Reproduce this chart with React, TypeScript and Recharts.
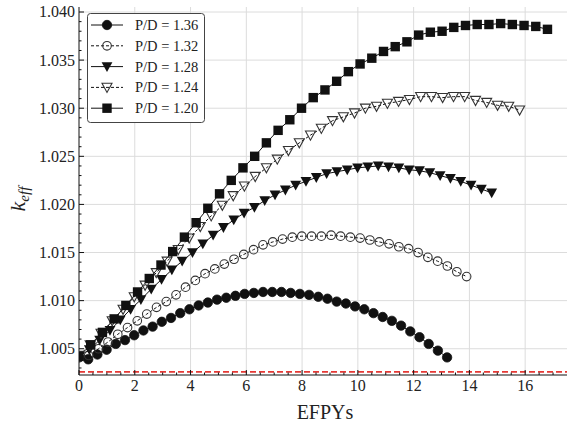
import { LineChart, Line, XAxis, YAxis, ReferenceLine, Legend } from 'recharts'

const SERIF = 'Liberation Serif, DejaVu Serif, serif'
const INK = '#111'
const txt = { fontFamily: SERIF }

// EFPY / k_eff pairs, one pair per P/D ratio
const efpy136 = [0, 0.33, 0.66, 0.99, 1.32, 1.65, 1.98, 2.31, 2.64, 2.97, 3.3, 3.63, 3.96, 4.29, 4.62, 4.95, 5.28, 5.61, 5.94, 6.27, 6.6, 6.93, 7.26, 7.59, 7.92, 8.25, 8.58, 8.91, 9.24, 9.57, 9.9, 10.23, 10.56, 10.89, 11.22, 11.55, 11.88, 12.21, 12.54, 12.87, 13.2]
const keff136 = [1.0041, 1.0039, 1.0044, 1.0049, 1.0055, 1.0059, 1.0064, 1.0069, 1.0073, 1.0078, 1.0082, 1.0087, 1.0091, 1.0095, 1.0098, 1.0101, 1.0103, 1.0105, 1.0107, 1.0108, 1.0109, 1.0109, 1.0109, 1.0108, 1.0107, 1.0106, 1.0104, 1.0102, 1.0099, 1.0097, 1.0094, 1.0091, 1.0087, 1.0083, 1.0079, 1.0074, 1.0068, 1.0062, 1.0055, 1.0048, 1.0041]

const efpy132 = [0, 0.35, 0.7, 1.04, 1.39, 1.74, 2.09, 2.43, 2.78, 3.13, 3.48, 3.82, 4.17, 4.52, 4.87, 5.21, 5.56, 5.91, 6.26, 6.6, 6.95, 7.3, 7.65, 7.99, 8.34, 8.69, 9.04, 9.38, 9.73, 10.08, 10.43, 10.77, 11.12, 11.47, 11.82, 12.16, 12.51, 12.86, 13.21, 13.55, 13.9]
const keff132 = [1.0041, 1.0043, 1.005, 1.0057, 1.0065, 1.0072, 1.0079, 1.0086, 1.0093, 1.0099, 1.0106, 1.0114, 1.0121, 1.0128, 1.0133, 1.0138, 1.0143, 1.0148, 1.0153, 1.0158, 1.0161, 1.0164, 1.0166, 1.0167, 1.0167, 1.0167, 1.0168, 1.0167, 1.0166, 1.0165, 1.0163, 1.0161, 1.0159, 1.0156, 1.0154, 1.015, 1.0145, 1.0141, 1.0136, 1.013, 1.0125]

const efpy128 = [0, 0.37, 0.74, 1.11, 1.48, 1.85, 2.22, 2.59, 2.96, 3.33, 3.7, 4.07, 4.44, 4.81, 5.18, 5.55, 5.92, 6.29, 6.66, 7.03, 7.4, 7.77, 8.14, 8.51, 8.88, 9.25, 9.62, 9.99, 10.36, 10.73, 11.1, 11.47, 11.84, 12.21, 12.58, 12.95, 13.32, 13.69, 14.06, 14.43, 14.8]
const keff128 = [1.0042, 1.0049, 1.0059, 1.0069, 1.008, 1.0091, 1.0101, 1.0112, 1.0122, 1.0132, 1.0141, 1.015, 1.0159, 1.0168, 1.0176, 1.0184, 1.0191, 1.0197, 1.0204, 1.021, 1.0215, 1.022, 1.0224, 1.0228, 1.0232, 1.0234, 1.0236, 1.0238, 1.0239, 1.024, 1.0239, 1.0238, 1.0236, 1.0235, 1.0233, 1.023, 1.0227, 1.0224, 1.022, 1.0216, 1.0212]

const efpy124 = [0, 0.4, 0.79, 1.19, 1.58, 1.98, 2.37, 2.77, 3.16, 3.56, 3.95, 4.35, 4.74, 5.14, 5.53, 5.93, 6.32, 6.72, 7.11, 7.51, 7.9, 8.3, 8.69, 9.09, 9.48, 9.88, 10.27, 10.67, 11.06, 11.46, 11.85, 12.25, 12.64, 13.04, 13.43, 13.83, 14.22, 14.62, 15.01, 15.41, 15.8]
const keff124 = [1.0043, 1.0054, 1.0066, 1.0079, 1.0091, 1.0104, 1.0116, 1.0129, 1.0141, 1.0153, 1.0165, 1.0177, 1.0188, 1.0199, 1.0209, 1.0219, 1.0229, 1.0238, 1.0247, 1.0256, 1.0264, 1.0272, 1.0279, 1.0287, 1.0291, 1.0295, 1.03, 1.0302, 1.0305, 1.0307, 1.0309, 1.0312, 1.0312, 1.0311, 1.0312, 1.0312, 1.0308, 1.0306, 1.0303, 1.0302, 1.0298]

const efpy120 = [0, 0.42, 0.84, 1.26, 1.68, 2.1, 2.52, 2.94, 3.36, 3.78, 4.2, 4.62, 5.04, 5.46, 5.88, 6.3, 6.72, 7.14, 7.56, 7.98, 8.4, 8.82, 9.24, 9.66, 10.08, 10.5, 10.92, 11.34, 11.76, 12.18, 12.6, 13.02, 13.44, 13.86, 14.28, 14.7, 15.12, 15.54, 15.96, 16.38, 16.8]
const keff120 = [1.0042, 1.0054, 1.0067, 1.0081, 1.0095, 1.0109, 1.0123, 1.0137, 1.0151, 1.0166, 1.0181, 1.0196, 1.0211, 1.0225, 1.0238, 1.025, 1.0264, 1.0277, 1.0288, 1.03, 1.0311, 1.0319, 1.0328, 1.0338, 1.0346, 1.0352, 1.0359, 1.0364, 1.0369, 1.0376, 1.0379, 1.038, 1.0384, 1.0386, 1.0387, 1.0387, 1.0388, 1.0387, 1.0386, 1.0385, 1.0382]

// axis ticks (minor + major) and gridlines
const xTicks = [0, 0.5, 1, 1.5, 2, 2.5, 3, 3.5, 4, 4.5, 5, 5.5, 6, 6.5, 7, 7.5, 8, 8.5, 9, 9.5, 10, 10.5, 11, 11.5, 12, 12.5, 13, 13.5, 14, 14.5, 15, 15.5, 16, 16.5, 17]
const xMajor = [0, 2, 4, 6, 8, 10, 12, 14, 16]
const yTicks = [1.003, 1.004, 1.005, 1.006, 1.007, 1.008, 1.009, 1.01, 1.011, 1.012, 1.013, 1.014, 1.015, 1.016, 1.017, 1.018, 1.019, 1.02, 1.021, 1.022, 1.023, 1.024, 1.025, 1.026, 1.027, 1.028, 1.029, 1.03, 1.031, 1.032, 1.033, 1.034, 1.035, 1.036, 1.037, 1.038, 1.039, 1.04]
const yMajor = [1.005, 1.01, 1.015, 1.02, 1.025, 1.03, 1.035, 1.04]
const xGrid = [2, 4, 6, 8, 10, 12, 14, 16]
const yGrid = [1.005, 1.01, 1.015, 1.02, 1.025, 1.03, 1.035, 1.04]
const limitK = 1.0026

const zip = (xs: number[], ys: number[]) => xs.map((x, i) => ({ x, k: ys[i] }))

type MarkerKind = 'circle' | 'circleOpen' | 'tri' | 'triOpen' | 'square'

const series: { name: string; data: { x: number; k: number }[]; marker: MarkerKind; dashed: boolean }[] = [
  { name: 'P/D = 1.36', data: zip(efpy136, keff136), marker: 'circle', dashed: false },
  { name: 'P/D = 1.32', data: zip(efpy132, keff132), marker: 'circleOpen', dashed: true },
  { name: 'P/D = 1.28', data: zip(efpy128, keff128), marker: 'tri', dashed: false },
  { name: 'P/D = 1.24', data: zip(efpy124, keff124), marker: 'triOpen', dashed: true },
  { name: 'P/D = 1.20', data: zip(efpy120, keff120), marker: 'square', dashed: false },
]

const isMajor = (v: number, list: number[]) => list.some((m) => Math.abs(m - v) < 1e-7)

function Marker({ kind, cx, cy }: { kind: MarkerKind; cx: number; cy: number }) {
  switch (kind) {
    case 'circle':
      return <circle cx={cx} cy={cy} r={4.7} fill={INK} stroke={INK} strokeWidth={0.8} />
    case 'circleOpen':
      return <circle cx={cx} cy={cy} r={4.3} fill="none" stroke="#333" strokeWidth={1.1} />
    case 'tri':
      return <polygon points={`${cx - 5.4},${cy - 4.4} ${cx + 5.4},${cy - 4.4} ${cx},${cy + 5.4}`} fill={INK} />
    case 'triOpen':
      return (
        <polygon
          points={`${cx - 5},${cy - 4.1} ${cx + 5},${cy - 4.1} ${cx},${cy + 5}`}
          fill="none"
          stroke="#333"
          strokeWidth={1.1}
        />
      )
    default:
      return <rect x={cx - 4.7} y={cy - 4.7} width={9.4} height={9.4} fill={INK} />
  }
}

const bottomTick = (p: any) => {
  const v = p.payload.value
  const major = isMajor(v, xMajor)
  return (
    <g>
      <line x1={p.x} x2={p.x} y1={p.y} y2={p.y - (major ? 5 : 2.5)} stroke={INK} />
      {major && (
        <text x={p.x} y={p.y + 16} textAnchor="middle" style={txt} fontSize={16} fill="#222">
          {v}
        </text>
      )}
    </g>
  )
}

const topTick = (p: any) => {
  const major = isMajor(p.payload.value, xMajor)
  return <line x1={p.x} x2={p.x} y1={p.y} y2={p.y + (major ? 5 : 2.5)} stroke={INK} />
}

const leftTick = (p: any) => {
  const v = p.payload.value
  const major = isMajor(v, yMajor)
  return (
    <g>
      <line x1={p.x} x2={p.x + (major ? 5 : 2.5)} y1={p.y} y2={p.y} stroke={INK} />
      {major && (
        <text x={p.x - 4} y={p.y} dy="0.34em" textAnchor="end" style={txt} fontSize={16} fill="#222">
          {v.toFixed(3)}
        </text>
      )}
    </g>
  )
}

const rightTick = (p: any) => {
  const major = isMajor(p.payload.value, yMajor)
  return <line x1={p.x} x2={p.x - (major ? 5 : 2.5)} y1={p.y} y2={p.y} stroke={INK} />
}

const keffLabel = (props: any) => {
  const vb = props.viewBox
  const x = vb.x + 25
  const y = vb.y + vb.height / 2 + 8
  return (
    <text x={x} y={y} transform={`rotate(-90, ${x}, ${y})`} textAnchor="middle" style={txt} fill="#222">
      <tspan fontStyle="italic" fontSize={22}>k</tspan>
      <tspan fontStyle="italic" fontSize={15} dy={4}>eff</tspan>
    </text>
  )
}

const efpyLabel = (props: any) => {
  const vb = props.viewBox
  return (
    <text x={vb.x + vb.width / 2 + 2} y={vb.y + 44} textAnchor="middle" style={txt} fontSize={20} fill="#222">
      EFPYs
    </text>
  )
}

const legendBox = () => (
  <svg width={119} height={111} style={{ display: 'block' }}>
    <rect x={0.5} y={0.5} width={117} height={109} rx={3} fill="#fff" stroke="#444" />
    {series.map((s, i) => {
      const cy = 12 + i * 20.8
      return (
        <g key={s.name}>
          <line x1={4} x2={36} y1={cy} y2={cy} stroke={INK} strokeDasharray={s.dashed ? '3 2' : undefined} />
          <Marker kind={s.marker} cx={20} cy={cy} />
          <text x={48} y={cy + 5} style={txt} fontSize={14.5} fill="#222">
            {s.name}
          </text>
        </g>
      )
    })}
  </svg>
)

export default function App() {
  return (
    <div style={{ position: 'absolute', left: 0, top: 0, width: 571, height: 426, background: '#fff', fontFamily: SERIF }}>
      <LineChart width={571} height={426} margin={{ top: 7, right: 4, bottom: 0, left: 0 }}>
        <XAxis
          xAxisId="b"
          type="number"
          dataKey="x"
          domain={[0, 17.5]}
          ticks={xTicks}
          interval={0}
          allowDataOverflow
          height={51}
          tickSize={0}
          tickMargin={0}
          tickLine={false}
          axisLine={{ stroke: INK }}
          tick={bottomTick}
          label={efpyLabel}
        />
        <XAxis
          xAxisId="t"
          orientation="top"
          type="number"
          dataKey="x"
          domain={[0, 17.5]}
          ticks={xTicks}
          interval={0}
          allowDataOverflow
          height={0}
          tickSize={0}
          tickMargin={0}
          tickLine={false}
          axisLine={{ stroke: INK }}
          tick={topTick}
        />
        <YAxis
          yAxisId="l"
          type="number"
          domain={[1.00227, 1.04052]}
          ticks={yTicks}
          interval={0}
          allowDataOverflow
          width={79}
          tickSize={0}
          tickMargin={0}
          tickLine={false}
          axisLine={{ stroke: INK }}
          tick={leftTick}
          label={keffLabel}
        />
        <YAxis
          yAxisId="r"
          orientation="right"
          type="number"
          domain={[1.00227, 1.04052]}
          ticks={yTicks}
          interval={0}
          allowDataOverflow
          width={0}
          tickSize={0}
          tickMargin={0}
          tickLine={false}
          axisLine={{ stroke: INK }}
          tick={rightTick}
        />

        {/* light grid at the major ticks */}
        {xGrid.map((v) => (
          <ReferenceLine key={`gx${v}`} xAxisId="b" yAxisId="l" x={v} stroke="#dcdcdc" strokeWidth={1} />
        ))}
        {yGrid.map((v) => (
          <ReferenceLine key={`gy${v}`} xAxisId="b" yAxisId="l" y={v} stroke="#dcdcdc" strokeWidth={1} />
        ))}
        <ReferenceLine xAxisId="b" yAxisId="l" y={limitK} stroke="#e53935" strokeWidth={1.6} strokeDasharray="6 3" />

        {series.map((s) => (
          <Line
            key={s.name}
            xAxisId="b"
            yAxisId="l"
            data={s.data}
            dataKey="k"
            name={s.name}
            stroke={INK}
            strokeWidth={1}
            strokeDasharray={s.dashed ? '3 2' : undefined}
            isAnimationActive={false}
            activeDot={false}
            dot={(p: any) => <Marker key={`${s.name}-${p.index}`} kind={s.marker} cx={p.cx} cy={p.cy} />}
          />
        ))}

        <Legend
          layout="vertical"
          align="center"
          verticalAlign="middle"
          content={legendBox}
          wrapperStyle={{ left: 87, top: 13, width: 119, height: 111 }}
        />
      </LineChart>
    </div>
  )
}
